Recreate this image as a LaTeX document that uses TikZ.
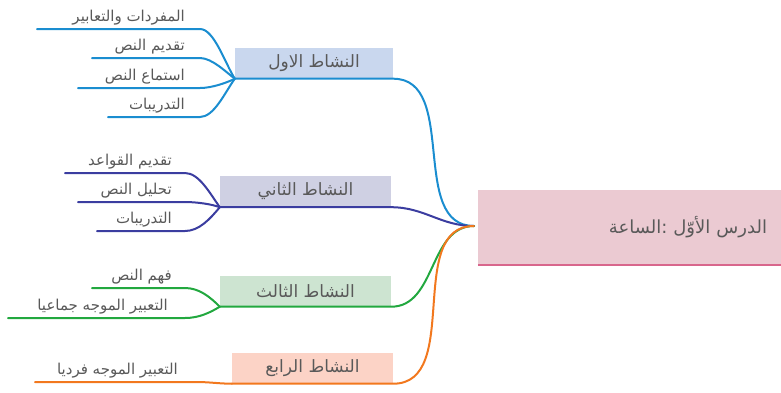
\documentclass[tikz,border=0pt]{standalone}
\usepackage{fontspec}
\newfontfamily\arabicfont[Script=Arabic]{DejaVu Sans}
\TeXXeTstate=1
\usetikzlibrary{positioning}

\definecolor{blueA}{HTML}{1A8DD0}
\definecolor{blueF}{HTML}{C9D7EE}
\definecolor{indigoA}{HTML}{3B3DA0}
\definecolor{indigoF}{HTML}{CFD0E3}
\definecolor{greenA}{HTML}{22A83F}
\definecolor{greenF}{HTML}{CDE4D1}
\definecolor{orangeA}{HTML}{F2781E}
\definecolor{orangeF}{HTML}{FCD3C6}
\definecolor{pinkF}{HTML}{EBCAD2}
\definecolor{pinkA}{HTML}{D8668C}
\definecolor{textgray}{HTML}{595959}

\newcommand{\artext}[1]{{\arabicfont\beginR #1\endR}}

\tikzset{
  actbox/.style={rectangle, minimum height=31, inner sep=0, text=textgray,
    font=\arabicfont\fontsize{17}{19}\selectfont},
  subtext/.style={anchor=south east, inner sep=1pt, text=textgray,
    font=\arabicfont\fontsize{15}{17}\selectfont},
  branch/.style={line width=2, line cap=round},
}

\begin{document}
\begin{tikzpicture}[x=1pt, y=-1pt]
    \useasboundingbox (0,0) rectangle (781,392);

    % lesson
    \node[rectangle, fill=pinkF, minimum width=303, minimum height=75,
      text width=275, align=right, inner xsep=14, text=textgray,
      font=\arabicfont\fontsize{18}{20}\selectfont] (lesson) at (629.5,227.5)
      {\artext{الدرس الأوّل :الساعة}};
    \draw[pinkA, line width=2] (lesson.south west) -- (lesson.south east);
    \coordinate (hub) at (474,226);

    % activities
    \node[actbox, fill=blueF, minimum width=158] (act1) at (314,63) {\artext{النشاط الاول}};
    \node[actbox, fill=indigoF, minimum width=171] (act2) at (305.5,191.5) {\artext{النشاط الثاني}};
    \node[actbox, fill=greenF, minimum width=171] (act3) at (305.5,291) {\artext{النشاط الثالث}};
    \node[actbox, fill=orangeF, minimum width=161] (act4) at (312.5,368) {\artext{النشاط الرابع}};

    \draw[branch, blueA] (act1.south west) -- (act1.south east) to[out=0, in=180] (hub);
    \draw[branch, indigoA] (act2.south west) -- (act2.south east) to[out=0, in=180] (hub);
    \draw[branch, greenA] (act3.south west) -- (act3.south east) to[out=0, in=180] (hub);
    \draw[branch, orangeA] (act4.south west) -- (act4.south east) to[out=0, in=180] (hub);

    % first activity
    \coordinate (s11a) at (37,29);
    \coordinate (s12a) at (92,58);
    \coordinate (s13a) at (78,88);
    \coordinate (s14a) at (108,117);
    \node[subtext] (s11) at (186,26) {\artext{المفردات والتعابير}};
    \node[subtext] (s12) at (186,55) {\artext{تقديم النص}};
    \node[subtext] (s13) at (186,85) {\artext{استماع النص}};
    \node[subtext] (s14) at (186,114) {\artext{التدريبات}};
    \draw[branch, blueA] (s11a) -- (200,29) .. controls +(14,0) and +(-10,-16) .. (act1.south west);
    \draw[branch, blueA] (s12a) -- (200,58) .. controls +(12,0) and +(-8,-6) .. (act1.south west);
    \draw[branch, blueA] (s13a) -- (200,88) .. controls +(12,0) and +(-8,4) .. (act1.south west);
    \draw[branch, blueA] (s14a) -- (200,117) .. controls +(14,0) and +(-10,14) .. (act1.south west);

    % second activity
    \coordinate (s21a) at (65,173);
    \coordinate (s22a) at (78,202);
    \coordinate (s23a) at (97,231);
    \node[subtext] (s21) at (173,170) {\artext{تقديم القواعد}};
    \node[subtext] (s22) at (173,199) {\artext{تحليل النص}};
    \node[subtext] (s23) at (173,228) {\artext{التدريبات}};
    \draw[branch, indigoA] (s21a) -- (185,173) .. controls +(14,0) and +(-10,-14) .. (act2.south west);
    \draw[branch, indigoA] (s22a) -- (185,202) .. controls +(12,0) and +(-8,-3) .. (act2.south west);
    \draw[branch, indigoA] (s23a) -- (185,231) .. controls +(14,0) and +(-10,12) .. (act2.south west);

    % third activity
    \coordinate (s31a) at (92,288);
    \coordinate (s32a) at (8,318);
    \node[subtext] (s31) at (173,285) {\artext{فهم النص}};
    \node[subtext] (s32) at (169,315) {\artext{التعبير الموجه جماعيا}};
    \draw[branch, greenA] (s31a) -- (185,288) .. controls +(14,0) and +(-10,-10) .. (act3.south west);
    \draw[branch, greenA] (s32a) -- (185,318) .. controls +(14,0) and +(-10,6) .. (act3.south west);

    % fourth activity
    \coordinate (s41a) at (35,382);
    \node[subtext] (s41) at (179,379) {\artext{التعبير الموجه فرديا}};
    \draw[branch, orangeA] (s41a) -- (197,382) .. controls +(12,0) and +(-12,0) .. (act4.south west);
\end{tikzpicture}
\end{document}
